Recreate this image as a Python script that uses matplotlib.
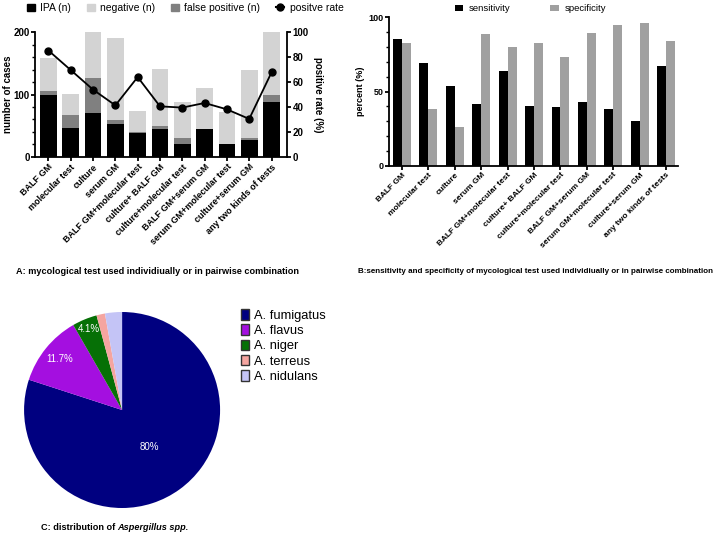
import numpy as np
import matplotlib
matplotlib.use("Agg")
import matplotlib.pyplot as plt
from matplotlib.patches import Patch
from matplotlib.lines import Line2D

plt.rcParams['font.family'] = ['Liberation Sans', 'DejaVu Sans']

tests = ['BALF GM', 'molecular test', 'culture', 'serum GM', 'BALF GM+molecular test',
         'culture+ BALF GM', 'culture+molecular test', 'BALF GM+serum GM',
         'serum GM+molecular test', 'culture+serum GM', 'any two kinds of tests']

# panel A: counts
ipa = [99, 46, 70, 52, 38, 45, 21, 44, 20, 27, 88]
false_pos = [7, 21, 57, 7, 2, 5, 9, 1, 1, 3, 12]
negative = [52, 34, 79, 131, 33, 91, 58, 66, 51, 110, 107]
pos_rate = [85.3, 69.6, 53.9, 41.3, 64.0, 40.5, 39.5, 43.2, 38.1, 30.4, 67.7]

# panel B: percentages
sensitivity = [85.3, 69.4, 53.8, 41.3, 64.0, 40.6, 39.5, 43.1, 38.0, 30.4, 67.4]
specificity = [82.6, 38.4, 25.9, 88.8, 79.7, 82.8, 73.0, 89.7, 94.9, 95.8, 84.2]

# panel C: species
species = ['A. fumigatus', 'A. flavus', 'A. niger', 'A. terreus', 'A. nidulans']
share = [80.0, 11.7, 4.1, 1.4, 2.8]
share_labels = ['80%', '11.7%', '4.1%', '', '']

fig = plt.figure(figsize=(7.16, 5.37), dpi=100)

x = np.arange(len(tests))
lw = 1.3
tickfont = dict(fontsize=6.5, fontweight='bold')

# ---- A ----
axA = fig.add_axes([0.049, 0.708, 0.352, 0.232])
bottom2 = np.array(ipa) + np.array(false_pos)
axA.bar(x, ipa, 0.75, color='black')
axA.bar(x, false_pos, 0.75, bottom=ipa, color='#808080')
axA.bar(x, negative, 0.75, bottom=bottom2, color='#d3d3d3')
axA.set_xlim(-0.6, 10.7)
axA.set_ylim(0, 200)
axA.set_yticks([0, 100, 200])
axA.set_yticks(np.arange(0, 201, 20), minor=True)
axA.set_ylabel('number of cases', fontsize=7, fontweight='bold', labelpad=0.5)
axA.set_xticks(x)
axA.set_xticklabels(tests, rotation=45, ha='right', rotation_mode='anchor', **tickfont)
for lab in axA.get_yticklabels():
    lab.set_fontsize(7); lab.set_fontweight('bold')
axA.spines['top'].set_visible(False)
axA.spines['right'].set_visible(False)
for s in ['left', 'bottom']:
    axA.spines[s].set_linewidth(lw)
axA.tick_params(width=lw, length=3, pad=1)
axA.tick_params(which='minor', width=1, length=2)

axA2 = axA.twinx()
axA2.plot(x, pos_rate, color='black', marker='o', markersize=5, linewidth=1.3)
axA2.set_ylim(0, 100)
axA2.set_yticks(np.arange(0, 101, 20))
axA2.set_ylabel('positive rate (%)', fontsize=7, fontweight='bold', rotation=270, labelpad=10)
for lab in axA2.get_yticklabels():
    lab.set_fontsize(7); lab.set_fontweight('bold')
for s in ['top', 'left', 'bottom']:
    axA2.spines[s].set_visible(False)
axA2.spines['right'].set_linewidth(lw)
axA2.tick_params(width=lw, length=3, pad=1)

handlesA = [Patch(color='black'), Patch(color='#d3d3d3'), Patch(color='#808080'),
            Line2D([], [], color='black', marker='o', markersize=5)]
fig.legend(handlesA, ['IPA (n)', 'negative (n)', 'false positive (n)', 'positve rate'],
           loc='upper left', bbox_to_anchor=(0.024, 1.012), ncol=4, frameon=False,
           fontsize=7.5, handlelength=0.8, handleheight=0.6, handletextpad=0.5,
           columnspacing=1.5)

fig.text(0.022, 0.494, 'A: mycological test used individiually or in pairwise combination',
         fontsize=6.6, fontweight='bold', va='center')

# ---- B ----
axB = fig.add_axes([0.543, 0.691, 0.404, 0.277])
bw = 0.34
axB.bar(x - bw / 2, sensitivity, bw, color='black', label='sensitivity')
axB.bar(x + bw / 2, specificity, bw, color='#a0a0a0', label='specificity')
axB.set_xlim(-0.5, 10.45)
axB.set_ylim(0, 100)
axB.set_yticks([0, 50, 100])
axB.set_yticks(np.arange(0, 101, 10), minor=True)
axB.set_ylabel('percent (%)', fontsize=6.5, fontweight='bold', labelpad=2)
axB.set_xticks(x)
axB.set_xticklabels(tests, rotation=45, ha='right', rotation_mode='anchor', fontsize=6, fontweight='bold')
for lab in axB.get_yticklabels():
    lab.set_fontsize(6.5); lab.set_fontweight('bold')
axB.spines['top'].set_visible(False)
axB.spines['right'].set_visible(False)
for s in ['left', 'bottom']:
    axB.spines[s].set_linewidth(lw)
axB.tick_params(width=lw, length=3, pad=1)
axB.tick_params(which='minor', width=1, length=2)
axB.legend(loc='lower center', bbox_to_anchor=(0.49, 0.97), ncol=2, frameon=False,
           fontsize=6.8, handlelength=0.9, handleheight=0.6, handletextpad=0.6,
           columnspacing=4.2)

fig.text(0.5, 0.494, 'B:sensitivity and specificity of mycological test used individiually or in pairwise combination',
         fontsize=5.75, fontweight='bold', va='center')

# ---- C ----
axC = fig.add_axes([0.0335, 0.054, 0.274, 0.365])
colors = ['#000080', '#a40fe0', '#067006', '#f5a5a0', '#c4c4f6']
wedges, _ = axC.pie(share, colors=colors, startangle=90, counterclock=False)
axC.set_xlim(-1.0, 1.0)
axC.set_ylim(-1.0, 1.0)
dists = [0.47, 0.82, 0.89, 0, 0]
for w, lab, d in zip(wedges, share_labels, dists):
    if not lab:
        continue
    ang = np.deg2rad((w.theta1 + w.theta2) / 2)
    axC.text(d * np.cos(ang), d * np.sin(ang), lab, color='white', fontsize=7,
             ha='center', va='center')
axC.legend(wedges, species, loc='upper left', bbox_to_anchor=(1.08, 1.04), frameon=False,
           fontsize=9.3, handlelength=0.6, handleheight=0.9, handletextpad=0.4,
           labelspacing=0.18, borderaxespad=0)
for h in axC.get_legend().legend_handles:
    h.set_edgecolor('#333333'); h.set_linewidth(1)

capC = fig.text(0.057, 0.01, 'C: distribution of ', fontsize=6.6, fontweight='bold', va='bottom')
fig.canvas.draw()
bb = capC.get_window_extent().transformed(fig.transFigure.inverted())
fig.text(bb.x1, 0.01, 'Aspergillus spp.', fontsize=6.6, fontweight='bold', style='italic', va='bottom')

fig.savefig('out.png', dpi=100)
